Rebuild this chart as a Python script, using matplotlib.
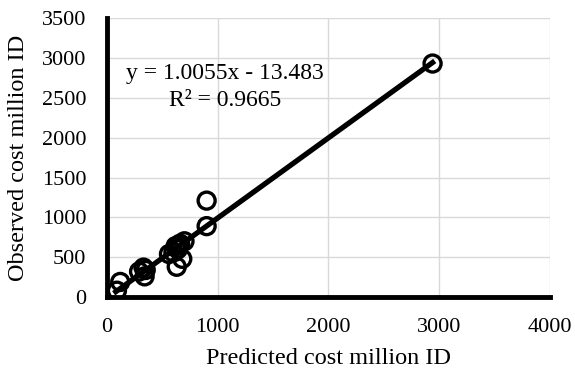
import numpy as np
import matplotlib.pyplot as plt

plt.rcParams['font.family'] = ['Liberation Serif', 'DejaVu Serif']

# datos
predicho = [90, 120, 290, 330, 340, 350, 560, 600, 620, 640, 650, 660, 700, 630, 680, 900, 900, 2940]
observado = [80, 190, 320, 370, 260, 340, 540, 560, 640, 600, 650, 670, 700, 380, 480, 890, 1210, 2930]
pendiente = 1.0055
intercepto = -13.483
ecuacion = "y = 1.0055x - 13.483"
r2_texto = "R² = 0.9665"

fig = plt.figure(figsize=(5.75, 3.77), dpi=100)
ax = fig.add_axes([0.186, 0.212, 0.7705, 0.74])

ax.scatter(predicho, observado, s=150, facecolors='none', edgecolors='black', linewidths=2.4, zorder=3)

xl = np.array([min(predicho) - 10, max(predicho)])
ax.plot(xl, pendiente * xl + intercepto, color='black', lw=3.8, zorder=2)

ax.text(1065, 2810, ecuacion, fontsize=17, ha='center', va='center')
ax.text(1065, 2472, r2_texto, fontsize=17, ha='center', va='center')

ax.set_xlim(0, 4000)
ax.set_ylim(0, 3500)
ax.set_xticks(range(0, 4001, 1000))
ax.set_yticks(range(0, 3501, 500))
ax.grid(True, color='#d9d9d9', lw=1)
ax.set_axisbelow(True)
ax.tick_params(axis='x', length=0, labelsize=16, pad=15)
ax.tick_params(axis='y', length=0, labelsize=16, pad=15)
for s in ['top', 'right']:
    ax.spines[s].set_visible(False)
for s in ['left', 'bottom']:
    ax.spines[s].set_linewidth(3.5)
ax.set_xlabel("Predicted cost million ID", fontsize=17.5, labelpad=8)
ax.set_ylabel("Observed cost million ID", fontsize=17.5, labelpad=9)

fig.savefig("out.png", dpi=100)
